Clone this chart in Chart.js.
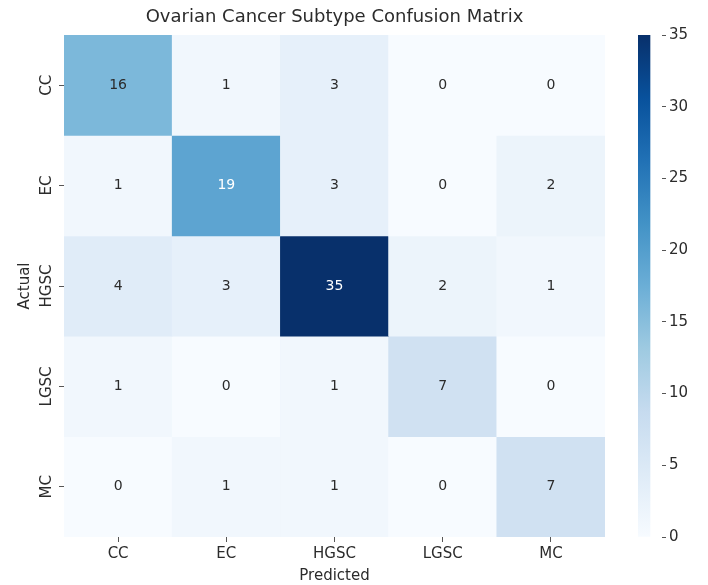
<!DOCTYPE html>
<html><head><meta charset="utf-8">
<script src="https://cdn.jsdelivr.net/npm/chart.js@4"></script>
<style>
html,body{margin:0;padding:0;background:#fff;}
#wrap{position:relative;width:708px;height:585px;overflow:hidden;}
canvas{position:absolute;top:0;}
</style>
</head><body>
<div id="wrap">
<canvas id="main" width="708" height="585" style="left:0;width:708px;height:585px"></canvas>
<canvas id="cbar" width="78" height="585" style="left:630px;width:78px;height:585px"></canvas>
</div>
<script>
// ---- data ----
const categories = ['CC', 'EC', 'HGSC', 'LGSC', 'MC'];
const actualCC   = [16, 1, 3, 0, 0];
const actualEC   = [1, 19, 3, 0, 2];
const actualHGSC = [4, 3, 35, 2, 1];
const actualLGSC = [1, 0, 1, 7, 0];
const actualMC   = [0, 1, 1, 0, 7];
const colorbarTicks = [0, 5, 10, 15, 20, 25, 30, 35];
const colorRange = [0, 35];

const rows = [actualCC, actualEC, actualHGSC, actualLGSC, actualMC];
const FONT = 'DejaVu Sans';
const TXT = '#2b2b2b';

// matplotlib "Blues"
const bluesStops = ['#f7fbff','#deebf7','#c6dbef','#9ecae1','#6baed6','#4292c6','#2171b5','#08519c','#08306b'];
function hex2rgb(h){return [1,3,5].map(i=>parseInt(h.substr(i,2),16));}
const bluesRGB = bluesStops.map(hex2rgb);
function bluesArr(t){
  t = Math.max(0, Math.min(1, t));
  const p = t * (bluesRGB.length - 1);
  const i = Math.min(Math.floor(p), bluesRGB.length - 2);
  const f = p - i;
  return bluesRGB[i].map((c, k) => c + (bluesRGB[i+1][k] - c) * f);
}
function blues(t){const c = bluesArr(t); return `rgb(${c.map(Math.round).join(',')})`;}
function norm(v){return (v - colorRange[0]) / (colorRange[1] - colorRange[0]);}
function lum(rgb){
  const l = rgb.map(c => { c /= 255; return c <= 0.03928 ? c / 12.92 : Math.pow((c + 0.055) / 1.055, 2.4); });
  return 0.2126*l[0] + 0.7152*l[1] + 0.0722*l[2];
}

const datasets = rows.map((row, r) => ({
  label: categories[r],
  data: row.map(() => [r, r + 1]),
  counts: row,
  backgroundColor: row.map(v => blues(norm(v))),
  borderWidth: 0,
  grouped: false,
  barPercentage: 1,
  categoryPercentage: 1
}));

const annot = {
  id: 'annot',
  afterDatasetsDraw(chart){
    const ctx = chart.ctx;
    ctx.save();
    ctx.font = `14px "${FONT}"`;
    ctx.textAlign = 'center';
    ctx.textBaseline = 'middle';
    chart.data.datasets.forEach((ds, di) => {
      chart.getDatasetMeta(di).data.forEach((el, i) => {
        const v = ds.counts[i];
        ctx.fillStyle = lum(bluesArr(norm(v))) > 0.408 ? TXT : '#ffffff';
        ctx.fillText(String(v), el.x, (el.y + el.base) / 2);
      });
    });
    ctx.restore();
  }
};

new Chart(document.getElementById('main'), {
  type: 'bar',
  data: { labels: categories, datasets },
  options: {
    responsive: false, animation: false, devicePixelRatio: 1,
    layout: { padding: { left: 0, right: 103, top: 0, bottom: 0 } },
    plugins: {
      legend: { display: false }, tooltip: { enabled: false },
      title: { display: true, text: 'Ovarian Cancer Subtype Confusion Matrix', fullSize: false,
        color: TXT, font: { family: FONT, size: 18, weight: 'normal' }, padding: { top: 7, bottom: 6.4 } }
    },
    scales: {
      x: {
        type: 'category', offset: true,
        grid: { display: true, offset: false, drawOnChartArea: false, drawTicks: true, tickLength: 5, tickColor: '#555' },
        border: { display: false },
        ticks: { color: TXT, font: { family: FONT, size: 15 }, padding: 3, maxRotation: 0, minRotation: 0 },
        title: { display: true, text: 'Predicted', color: TXT, font: { family: FONT, size: 15 }, padding: { top: 0, bottom: 0 } },
        afterFit(s){ s.height = 48; }
      },
      y: {
        type: 'linear', min: 0, max: 5, reverse: true,
        afterBuildTicks(s){ s.ticks = categories.map((c, i) => ({ value: i + 0.5 })); },
        grid: { display: true, drawOnChartArea: false, drawTicks: true, tickLength: 5, tickColor: '#555' },
        border: { display: false },
        ticks: { color: TXT, font: { family: FONT, size: 15 }, padding: -10, crossAlign: 'center',
          minRotation: 90, maxRotation: 90, autoSkip: false,
          callback: (v) => categories[Math.floor(v)] },
        title: { display: true, text: 'Actual', color: TXT, font: { family: FONT, size: 15 }, padding: { top: 16, bottom: 0 } },
        afterFit(s){ s.width = 64; }
      }
    }
  },
  plugins: [annot]
});

// ---- colorbar ----
new Chart(document.getElementById('cbar'), {
  type: 'bar',
  data: { labels: ['scale'], datasets: [{
    data: [colorRange],
    borderWidth: 0, barPercentage: 1, categoryPercentage: 1,
    backgroundColor(ctx){
      const ca = ctx.chart.chartArea;
      if (!ca) return blues(0.5);
      const g = ctx.chart.ctx.createLinearGradient(0, ca.bottom, 0, ca.top);
      bluesStops.forEach((c, i) => g.addColorStop(i / (bluesStops.length - 1), c));
      return g;
    }
  }]},
  options: {
    responsive: false, animation: false, devicePixelRatio: 1,
    layout: { padding: { left: 8, right: 0, top: 35, bottom: 48 } },
    plugins: { legend: { display: false }, tooltip: { enabled: false }, title: { display: false } },
    scales: {
      x: { display: false, offset: false },
      y: {
        position: 'right', min: colorRange[0], max: colorRange[1],
        afterBuildTicks(s){ s.ticks = colorbarTicks.map(v => ({ value: v })); },
        grid: { display: true, drawOnChartArea: false, drawTicks: true, tickLength: 4, tickColor: '#555' },
        border: { display: false },
        ticks: { color: TXT, font: { family: FONT, size: 15 }, padding: 3 },
        afterFit(s){ s.width = 46; }
      }
    }
  }
});
</script>
</body></html>
